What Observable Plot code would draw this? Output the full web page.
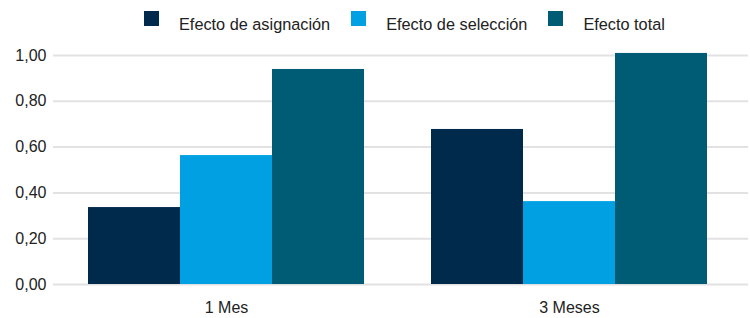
<!DOCTYPE html>
<html><head><meta charset="utf-8">
<script src="https://cdn.jsdelivr.net/npm/d3@7"></script>
<script src="https://cdn.jsdelivr.net/npm/@observablehq/plot@0.6"></script>
<style>
body{margin:0;background:#fff;font-family:"Liberation Sans",Arial,sans-serif;}
#legend{width:750px;height:24px;padding-top:16px;display:flex;align-items:flex-start;padding-left:144px;box-sizing:content-box;color:#222;font-size:16.3px;line-height:16px;}
#legend .item{display:flex;align-items:flex-start;margin-right:21px;}
#legend .sw{width:15px;height:15px;margin-top:-5px;margin-right:20px;}
#legend .lab{white-space:nowrap;}
#chart{position:relative;width:750px;height:278px;}
#chart svg{position:absolute;left:0;top:0;}
</style>
</head><body>
<div id="legend"></div>
<div id="chart"></div>
<script>
const groups = ["1 Mes", "3 Meses"];
const series = ["Efecto de asignación", "Efecto de selección", "Efecto total"];
const asignacion = [0.336, 0.677];
const seleccion = [0.563, 0.362];
const total = [0.939, 1.009];
const colors = ["#002A4B", "#00A0E3", "#005B74"];
const yTicks = [0, 0.2, 0.4, 0.6, 0.8, 1.0];

const seriesValues = [asignacion, seleccion, total];
const data = groups.flatMap((g, i) => series.map((s, j) => ({group: g, serie: s, value: seriesValues[j][i]})));

const legend = document.getElementById("legend");
series.forEach((s, j) => {
  const it = document.createElement("div");
  it.className = "item";
  const sw = document.createElement("div");
  sw.className = "sw";
  sw.style.background = colors[j];
  const lab = document.createElement("div");
  lab.className = "lab";
  lab.textContent = s;
  it.appendChild(sw); it.appendChild(lab);
  legend.appendChild(it);
});

const common = {
  width: 750, height: 278,
  marginTop: 15, marginBottom: 34, marginLeft: 53, marginRight: 8,
  style: {fontFamily: "Liberation Sans, Arial, sans-serif", fontSize: "16px", color: "#222", background: "transparent"}
};
const yScale = {domain: [0, 1], ticks: yTicks, tickFormat: d => d.toFixed(2).replace(".", ","), tickSize: 0, tickPadding: 7, label: null};

// Layer 1: gridlines + y axis (not faceted, spans the whole frame)
const grid = Plot.plot({
  ...common,
  style: {...common.style, background: "#fff"},
  y: yScale,
  marks: [
    Plot.ruleY(yTicks, {stroke: "#e2e2e2", strokeWidth: 2, insetRight: -6})
  ]
});

// Layer 2: grouped bars + category axis
const bars = Plot.plot({
  ...common,
  fx: {domain: groups, paddingInner: 0.194, paddingOuter: 0.1, label: null, tickSize: 0, tickPadding: 17},
  x: {domain: series, padding: 0, axis: null},
  y: {...yScale, axis: null},
  color: {domain: series, range: colors},
  marks: [
    Plot.barY(data, {fx: "group", x: "serie", y: "value", fill: "serie"})
  ]
});
const c = document.getElementById("chart");
c.appendChild(grid);
c.appendChild(bars);
</script>
</body></html>
